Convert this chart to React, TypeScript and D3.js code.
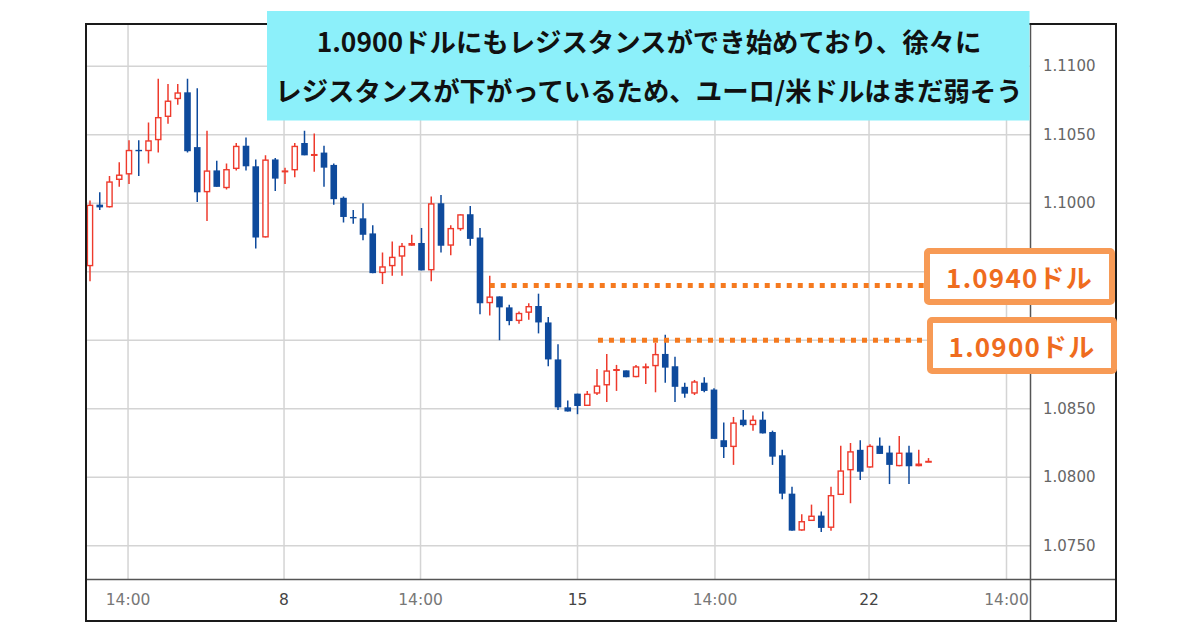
import React from "react";
import * as d3 from "d3";

// ---- data (EUR/USD 4h candles) ----
const opens = [
  1.0954, 1.0999, 1.0997, 1.1017, 1.1021, 1.1039, 1.1038, 1.1046, 1.1063, 1.1076,
  1.1081, 1.1041, 1.1008, 1.1024, 1.1011, 1.1025, 1.1042, 1.1027, 1.0975, 1.1032,
  1.1023, 1.1024, 1.1044, 1.1035, 1.1037, 1.1028, 1.1004, 1.0990, 1.0989, 1.0978,
  1.0949, 1.0954, 1.0961, 1.0969, 1.0971, 1.0951, 1.1000, 1.0969, 1.0981, 1.0992,
  1.0975, 1.0927, 1.0932, 1.0924, 1.0914, 1.0920, 1.0925, 1.0913, 1.0886, 1.0851,
  1.0861, 1.0852, 1.0861, 1.0867, 1.0878, 1.0878, 1.0873, 1.0881, 1.0881, 1.0890,
  1.0881, 1.0866, 1.0861, 1.0869, 1.0864, 1.0827, 1.0822, 1.0842, 1.0838, 1.0842,
  1.0833, 1.0816, 1.0788, 1.0761, 1.0768, 1.0772, 1.0763, 1.0787, 1.0805, 1.0820,
  1.0807, 1.0823, 1.0818, 1.0808, 1.0818, 1.0808, 1.0811,
];
const highs = [
  1.1002, 1.1008, 1.1020, 1.1030, 1.1046, 1.1046, 1.1059, 1.1091, 1.1087, 1.1087,
  1.1091, 1.1084, 1.1053, 1.1031, 1.1029, 1.1044, 1.1048, 1.1032, 1.1035, 1.1033,
  1.1026, 1.1044, 1.1053, 1.1051, 1.1042, 1.1029, 1.1005, 1.0995, 1.1000, 1.0984,
  1.0964, 1.0972, 1.0971, 1.0977, 1.0982, 1.1005, 1.1006, 1.0984, 1.0992, 1.0998,
  1.0982, 1.0947, 1.0932, 1.0926, 1.0921, 1.0927, 1.0934, 1.0917, 1.0897, 1.0856,
  1.0861, 1.0863, 1.0879, 1.0890, 1.0882, 1.0878, 1.0882, 1.0883, 1.0898, 1.0904,
  1.0888, 1.0869, 1.0871, 1.0873, 1.0865, 1.0840, 1.0844, 1.0849, 1.0845, 1.0848,
  1.0834, 1.0820, 1.0793, 1.0773, 1.0780, 1.0775, 1.0793, 1.0823, 1.0825, 1.0827,
  1.0824, 1.0829, 1.0823, 1.0830, 1.0823, 1.0820, 1.0814,
];
const lows = [
  1.0943, 1.0995, 1.0997, 1.1012, 1.1014, 1.1020, 1.1029, 1.1037, 1.1058, 1.1072,
  1.1037, 1.1001, 1.0987, 1.1012, 1.1010, 1.1024, 1.1024, 1.0967, 1.0975, 1.1009,
  1.1014, 1.1019, 1.1035, 1.1023, 1.1012, 1.0999, 1.0986, 1.0985, 1.0973, 1.0949,
  1.0941, 1.0947, 1.0947, 1.0969, 1.0951, 1.0943, 1.0964, 1.0962, 1.0980, 1.0969,
  1.0919, 1.0918, 1.0900, 1.0911, 1.0912, 1.0915, 1.0905, 1.0881, 1.0849, 1.0848,
  1.0846, 1.0852, 1.0860, 1.0855, 1.0863, 1.0873, 1.0873, 1.0868, 1.0862, 1.0869,
  1.0855, 1.0858, 1.0860, 1.0862, 1.0828, 1.0814, 1.0809, 1.0837, 1.0834, 1.0832,
  1.0809, 1.0784, 1.0761, 1.0761, 1.0768, 1.0760, 1.0761, 1.0787, 1.0781, 1.0798,
  1.0807, 1.0817, 1.0795, 1.0808, 1.0795, 1.0808, 1.0811,
];
const closes = [
  1.0999, 1.0997, 1.1016, 1.1021, 1.1039, 1.1038, 1.1046, 1.1063, 1.1075, 1.1081,
  1.1038, 1.1008, 1.1024, 1.1012, 1.1025, 1.1042, 1.1027, 1.0975, 1.1032, 1.1018,
  1.1024, 1.1042, 1.1035, 1.1036, 1.1026, 1.1003, 1.0990, 1.0989, 1.0977, 1.0949,
  1.0954, 1.0961, 1.0969, 1.0971, 1.0951, 1.1000, 1.0969, 1.0982, 1.0992, 1.0974,
  1.0927, 1.0932, 1.0924, 1.0914, 1.0920, 1.0925, 1.0913, 1.0886, 1.0851, 1.0848,
  1.0852, 1.0861, 1.0867, 1.0878, 1.0879, 1.0873, 1.0881, 1.0881, 1.0890, 1.0880,
  1.0866, 1.0861, 1.0870, 1.0863, 1.0828, 1.0822, 1.0840, 1.0838, 1.0842, 1.0832,
  1.0815, 1.0788, 1.0761, 1.0768, 1.0772, 1.0763, 1.0787, 1.0805, 1.0819, 1.0804,
  1.0823, 1.0817, 1.0809, 1.0818, 1.0808, 1.0810, 1.0812,
];

const yTicks = [1.075, 1.08, 1.085, 1.09, 1.095, 1.1, 1.105, 1.11];
const xTickPositions = [3.9, 19.9, 33.9, 50, 64.1, 79.9, 94];
const xTickLabels = ["14:00", "8", "14:00", "15", "14:00", "22", "14:00"];
const xTickIsDay = [false, true, false, true, false, true, false];

const titleLines = [
  "1.0900ドルにもレジスタンスができ始めており、徐々に",
  "レジスタンスが下がっているため、ユーロ/米ドルはまだ弱そう",
];
const levelValues = [1.094, 1.09];
const levelStarts = [41, 52.1];
const levelLabels = ["1.0940ドル", "1.0900ドル"];

const UP = "#ee3a2c";
const DOWN = "#0e4a9c";
const ORANGE_LINE = "#f57a1f";
const ORANGE_BOX = "#f79a55";
const ORANGE_TEXT = "#ef6c1e";

export default function App() {
  const W = 1200;
  const H = 630;
  const frame = { left: 86, top: 24, right: 1116, bottom: 621 };
  const plotRight = 1030.5;
  const axisY = 579.5;

  const x = d3.scaleLinear().domain([0, 86]).range([90, 928.5]);
  const y = d3.scaleLinear().domain([1.075, 1.11]).range([545.7, 66.3]);
  const bw = 6.6;

  const candles = d3.range(opens.length).map((i) => ({
    i,
    o: opens[i],
    h: highs[i],
    l: lows[i],
    c: closes[i],
  }));

  const boxes = [
    { x0: 924, y0: 248, x1: 1115, y1: 305 },
    { x0: 927, y0: 317, x1: 1117, y1: 374 },
  ];

  // tick labels hidden under the level boxes (as in the original screenshot)
  const visibleYTicks = yTicks.filter(
    (t) => !boxes.some((b) => y(t) > b.y0 - 6 && y(t) < b.y1 + 6)
  );

  return (
    <div style={{ position: "absolute", left: 0, top: 0, width: W, height: H, background: "#fff" }}>
      <svg width={W} height={H} viewBox={`0 0 ${W} ${H}`} style={{ display: "block" }}>
        <defs>
          <clipPath id="plotClip">
            <rect x={frame.left + 1} y={frame.top + 1} width={plotRight - frame.left - 1} height={axisY - frame.top - 1} />
          </clipPath>
        </defs>
        <rect x={0} y={0} width={W} height={H} fill="#fff" />

        {/* grid */}
        <g stroke="#d4d4d4" strokeWidth={1.5}>
          {yTicks.map((t) => (
            <line key={"h" + t} x1={frame.left} x2={plotRight} y1={y(t)} y2={y(t)} />
          ))}
          {xTickPositions.map((p, k) => (
            <line key={"v" + k} x1={x(p)} x2={x(p)} y1={frame.top} y2={axisY} />
          ))}
        </g>

        {/* candles */}
        <g clipPath="url(#plotClip)">
          {candles.map((d) => {
            const up = d.c >= d.o;
            const col = up ? UP : DOWN;
            const top = y(Math.max(d.o, d.c));
            const bot = y(Math.min(d.o, d.c));
            const h = Math.max(bot - top, 1.4);
            const cx = x(d.i);
            return (
              <g key={d.i}>
                <line x1={cx} x2={cx} y1={y(d.h)} y2={y(d.l)} stroke={col} strokeWidth={1.5} />
                {up ? (
                  <rect
                    x={cx - bw / 2 + 0.7}
                    y={top + 0.7}
                    width={bw - 1.4}
                    height={Math.max(h - 1.4, 0.6)}
                    fill="#fff"
                    stroke={col}
                    strokeWidth={1.4}
                  />
                ) : (
                  <rect x={cx - bw / 2} y={top} width={bw} height={h} fill={col} />
                )}
              </g>
            );
          })}
        </g>

        {/* axes lines & frame */}
        <line x1={plotRight} x2={plotRight} y1={frame.top} y2={frame.bottom} stroke="#555" strokeWidth={1.5} />
        <line x1={frame.left} x2={frame.right} y1={axisY} y2={axisY} stroke="#555" strokeWidth={1.5} />
        <rect
          x={frame.left}
          y={frame.top}
          width={frame.right - frame.left}
          height={frame.bottom - frame.top}
          fill="none"
          stroke="#1a1a1a"
          strokeWidth={2}
        />

        {/* y tick labels */}
        <g fontFamily="'DejaVu Sans', Verdana, sans-serif" fontSize={15} fill="#666">
          {visibleYTicks.map((t) => (
            <text key={"yl" + t} x={1043} y={y(t)} dominantBaseline="central">
              {d3.format(".4f")(t)}
            </text>
          ))}
        </g>
        {/* x tick labels */}
        <g fontFamily="'DejaVu Sans', Verdana, sans-serif" fontSize={15.5} textAnchor="middle">
          {xTickPositions.map((p, k) => (
            <text key={"xl" + k} x={x(p)} y={600} dominantBaseline="central" fill={xTickIsDay[k] ? "#444" : "#777"}>
              {xTickLabels[k]}
            </text>
          ))}
        </g>

        {/* level lines */}
        {levelValues.map((v, k) => (
          <line
            key={"lv" + k}
            x1={x(levelStarts[k])}
            x2={boxes[k].x0}
            y1={y(v)}
            y2={y(v)}
            stroke={ORANGE_LINE}
            strokeWidth={5}
            strokeDasharray="5 6"
          />
        ))}
        {/* level label boxes */}
        {levelLabels.map((lab, k) => {
          const b = boxes[k];
          return (
            <g key={"lb" + k}>
              <rect
                x={b.x0 + 3}
                y={b.y0 + 3}
                width={b.x1 - b.x0 - 6}
                height={b.y1 - b.y0 - 6}
                rx={2}
                fill="#fff"
                stroke={ORANGE_BOX}
                strokeWidth={6}
              />
              <text
                x={(b.x0 + b.x1) / 2}
                y={(b.y0 + b.y1) / 2}
                textAnchor="middle"
                dominantBaseline="central"
                fontFamily="'Noto Sans CJK JP', sans-serif"
                fontWeight={700}
                fontSize={26}
                letterSpacing={1.2}
                fill={ORANGE_TEXT}
              >
                {lab}
              </text>
            </g>
          );
        })}

        {/* title box */}
        <rect x={267} y={11} width={1029.5 - 267} height={109.5} fill="#8cf0fa" />
        {titleLines.map((t, k) => (
          <text
            key={"t" + k}
            x={649}
            y={40 + k * 49}
            textAnchor="middle"
            dominantBaseline="central"
            fontFamily="'Noto Sans CJK JP', sans-serif"
            fontWeight={700}
            fontSize={26.4}
            fill="#111"
          >
            {t}
          </text>
        ))}
      </svg>
    </div>
  );
}
